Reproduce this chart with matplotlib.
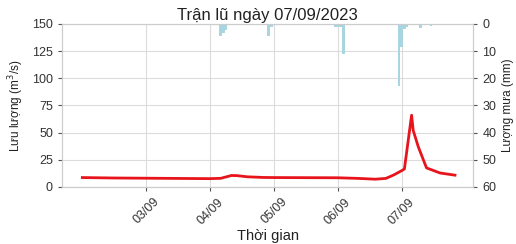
import matplotlib
matplotlib.use("Agg")
import matplotlib.pyplot as plt
from datetime import datetime, timedelta

plt.rcParams['font.family'] = ['Liberation Sans', 'DejaVu Sans']

# Data
start = datetime(2023, 9, 2, 0, 0)
flow_hours = [0, 12, 24, 36, 48, 52, 56, 58, 62, 68, 72, 84, 96, 104, 110, 114, 117, 120, 121, 123.7, 124.3, 126.2, 129.3, 134.4, 140]
flow_vals = [8.6, 8.2, 8.0, 7.8, 7.6, 7.9, 10.5, 10.4, 9.3, 8.7, 8.6, 8.5, 8.4, 7.8, 7.1, 7.8, 11.0, 15.0, 16.5, 66.0, 52.0, 37.0, 17.5, 12.8, 10.8]

rain_hours = [52, 53, 54, 70, 71, 94, 95, 96, 97, 98, 109, 118, 119, 120, 121, 122, 127, 131, 132]
rain_mm = [4.3, 3.4, 2.2, 4.3, 1.0, 0.5, 1.0, 1.0, 1.0, 11.0, 0.4, 0.5, 23.0, 8.5, 2.0, 1.0, 1.6, 0.7, 0.5]

day_ticks = [datetime(2023, 9, d) for d in range(3, 8)]
tick_labels = ['03/09', '04/09', '05/09', '06/09', '07/09']

flow_t = [start + timedelta(hours=h) for h in flow_hours]
rain_t = [start + timedelta(hours=h) for h in rain_hours]

fig = plt.figure(figsize=(5.16, 2.44), dpi=100)
ax = fig.add_axes([0.120, 0.234, 0.797, 0.668])
ax2 = ax.twinx()

ax.plot(flow_t, flow_vals, color='#e8141c', linewidth=2, zorder=3)
ax2.bar(rain_t, rain_mm, width=1/24, color='#a8d5e0', zorder=2)

ax.set_ylim(0, 150)
ax.set_yticks([0, 25, 50, 75, 100, 125, 150])
ax2.set_ylim(60, 0)
ax2.set_yticks([0, 10, 20, 30, 40, 50, 60])

x0 = datetime(2023, 9, 1, 16, 20)
x1 = datetime(2023, 9, 8, 2, 50)
ax.set_xlim(x0, x1)
ax.set_xticks(day_ticks)
ax.set_xticklabels(tick_labels, rotation=45)

ax.grid(True, color='#dcdcdc', linewidth=0.8)
ax.set_axisbelow(True)
for a in (ax, ax2):
    for s in a.spines.values():
        s.set_color('#cccccc')
        s.set_linewidth(0.8)
    a.tick_params(labelsize=9, length=3, width=0.8, color='#555555', labelcolor='#333333')

ax.set_title('Trận lũ ngày 07/09/2023', fontsize=12, color='#222222', pad=3)
ax.set_xlabel('Thời gian', fontsize=10.5, color='#222222', labelpad=2)
ax.set_ylabel('Lưu lượng (m$^3$/s)', fontsize=8.5, color='#222222')
ax2.set_ylabel('Lượng mưa (mm)', fontsize=8.5, color='#222222')

fig.savefig('out.png', dpi=100)
